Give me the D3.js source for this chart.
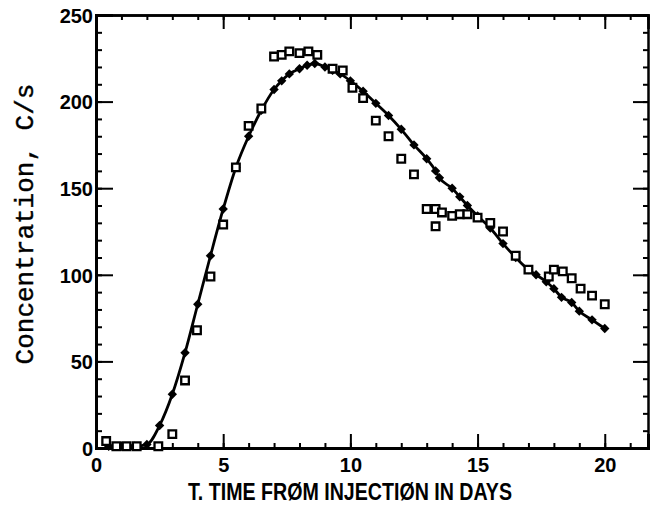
<!DOCTYPE html>
<html><head><meta charset="utf-8">
<script src="https://cdn.jsdelivr.net/npm/d3@7"></script>
<style>body{margin:0;background:#fff}svg{display:block}</style>
</head><body>
<svg id="c" width="650" height="510"></svg>
<script>
// Observed (open squares)
const obsT = [0.4,0.8,1.2,1.6,2.45,3.0,3.5,3.97,4.5,5.0,5.5,6.0,6.5,7.0,7.3,7.6,8.0,8.35,8.7,9.3,9.7,10.08,10.5,11.0,11.5,12.0,12.5,13.0,13.35,13.35,13.6,14.0,14.3,14.6,15.0,15.5,16.0,16.5,17.0,17.8,18.0,18.35,18.7,19.05,19.5,20.0];
const obsC = [4,1,1,1,1,8,39,68,99,129,162,186,196,226,227,229,228,229,227,219,218,208,202,189,180,167,158,138,138,128,136,134,135,135,133,130,125,111,103,99,103,102,98,92,88,83];
// Model (filled diamonds + line)
const modT = [0.5,1.0,1.5,2.0,2.5,3.0,3.5,4.0,4.5,5.0,5.5,6.0,6.5,7.0,7.3,7.6,8.0,8.3,8.6,9.0,9.3,9.6,10.0,10.5,11.0,11.5,12.0,12.5,13.0,13.35,13.5,14.0,14.3,14.6,15.0,15.5,16.0,16.5,17.0,17.3,17.7,18.0,18.3,18.7,19.0,19.5,20.0];
const modC = [1,1,1,2,13,31,55,83,111,138,162,180,195,207,212,216,219,221,222,220,218,216,212,206,199,192,184,175,167,160,156,150,145,140,134,127,118,110,103,100,96,92,87,84,79,74,69];
const xMajor = [0,5,10,15,20];
const yMajor = [0,50,100,150,200,250];
const xLabel = "T. TIME FRØM INJECTIØN IN DAYS";
const yLabel = "Concentration, C/s";

const svg = d3.select("#c");
const x = d3.scaleLinear([0,21.7],[96,648]);
const y = d3.scaleLinear([0,250],[448,15]);
const xMinor = d3.range(0,22,1);
const yMinor = d3.range(0,251,10);
const tickFont = "'Liberation Sans', Arial, sans-serif";

function style(g, w){ g.selectAll("path.domain").attr("stroke","#000").attr("stroke-width",w);
  g.selectAll(".tick line").attr("stroke","#000").attr("stroke-width",2);
  g.selectAll("text").attr("font-family",tickFont).attr("font-weight","bold").attr("font-size",20).attr("fill","#000"); }

// minor ticks
svg.append("g").attr("transform","translate(96,0)").call(d3.axisLeft(y).tickValues(yMinor).tickSize(-6).tickFormat("")).call(g=>style(g,3));
svg.append("g").attr("transform","translate(648,0)").call(d3.axisRight(y).tickValues(yMinor).tickSize(-5).tickFormat("")).call(g=>style(g,2));
svg.append("g").attr("transform","translate(0,448)").call(d3.axisBottom(x).tickValues(xMinor).tickSize(-5).tickFormat("")).call(g=>style(g,3));
svg.append("g").attr("transform","translate(0,15)").call(d3.axisTop(x).tickValues(xMinor).tickSize(-5).tickFormat("")).call(g=>style(g,2.5));
// major ticks
svg.append("g").attr("transform","translate(96,0)").call(d3.axisLeft(y).tickValues(yMajor).tickSize(-17).tickPadding(3).tickFormat(d3.format("d"))).call(g=>{style(g,3); g.selectAll("text").attr("dy","0.36em");});
svg.append("g").attr("transform","translate(648,0)").call(d3.axisRight(y).tickValues(yMajor).tickSize(-15).tickFormat("")).call(g=>style(g,2));
svg.append("g").attr("transform","translate(0,448)").call(d3.axisBottom(x).tickValues(xMajor).tickSize(-14).tickPadding(10).tickFormat(d3.format("d"))).call(g=>{style(g,3); g.selectAll("text").attr("dy","0.72em");});
svg.append("g").attr("transform","translate(0,15)").call(d3.axisTop(x).tickValues(xMajor).tickSize(-14).tickFormat("")).call(g=>style(g,2.5));

// model line
const model = modT.map((t,i)=>({t,c:modC[i]}));
const obs = obsT.map((t,i)=>({t,c:obsC[i]}));
svg.append("path").datum(model).attr("fill","none").attr("stroke","#000").attr("stroke-width",2.8)
  .attr("d", d3.line().x(d=>x(d.t)).y(d=>y(d.c)).curve(d3.curveMonotoneX));
svg.append("g").selectAll("path").data(model).join("path")
  .attr("transform",d=>`translate(${x(d.t)},${y(d.c)}) rotate(45)`)
  .attr("d", d3.symbol(d3.symbolSquare, 44)).attr("fill","#000");
svg.append("g").selectAll("path").data(obs).join("path")
  .attr("transform",d=>`translate(${x(d.t)},${y(d.c)})`)
  .attr("d", d3.symbol(d3.symbolSquare, 58)).attr("fill","#fff").attr("stroke","#000").attr("stroke-width",2.3);

// labels
svg.append("text").attr("x",188).attr("y",500).attr("font-family","'Liberation Sans Narrow', 'Liberation Sans', sans-serif")
  .attr("font-weight","bold").attr("font-size",23).attr("textLength",324).attr("lengthAdjust","spacingAndGlyphs").text(xLabel);
svg.append("text").attr("transform","translate(33,224) rotate(-90)").attr("text-anchor","middle")
  .attr("font-family","'Liberation Mono', 'Courier New', monospace").attr("font-size",26).attr("stroke","#000").attr("stroke-width",0.4).attr("fill","#000").text(yLabel);
</script>
</body></html>
